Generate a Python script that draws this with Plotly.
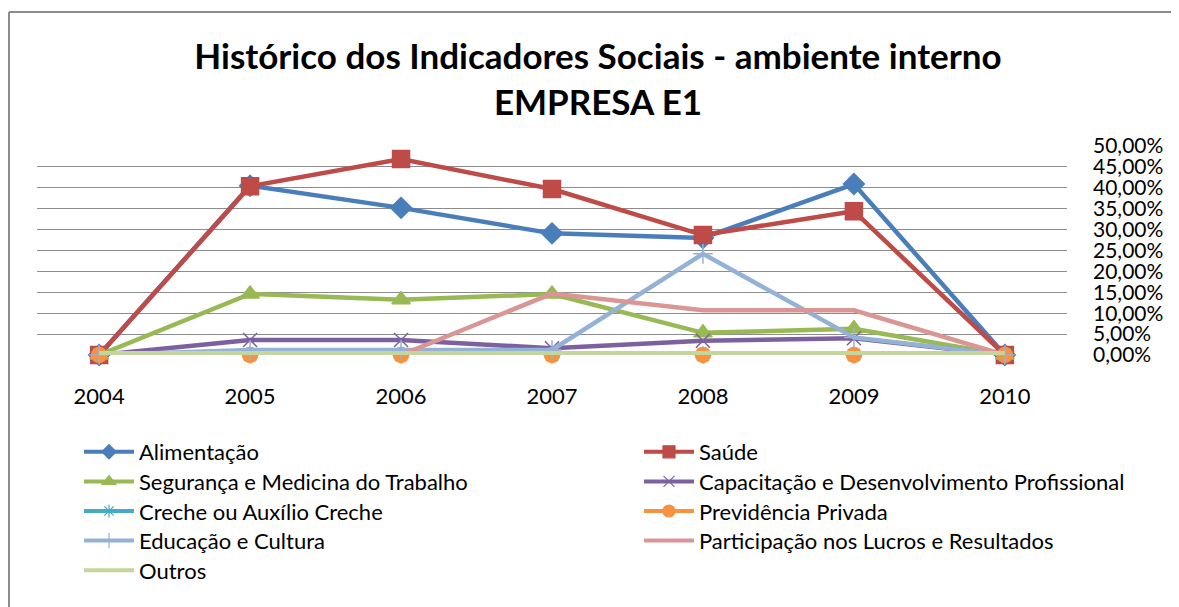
import plotly.graph_objects as go

years = ["2004", "2005", "2006", "2007", "2008", "2009", "2010"]

alimentacao = [0.0, 0.405, 0.352, 0.291, 0.280, 0.409, 0.0]
saude = [0.0, 0.404, 0.469, 0.397, 0.287, 0.344, 0.0]
seguranca = [0.0, 0.146, 0.132, 0.146, 0.053, 0.063, 0.0]
capacitacao = [0.0, 0.036, 0.036, 0.016, 0.034, 0.040, 0.0]
creche = [0.0, 0.0, 0.0, 0.0, 0.0, 0.0, 0.0]
previdencia = [0.0, 0.0, 0.0, 0.0, 0.0, 0.0, 0.0]
educacao = [0.0, 0.012, 0.012, 0.012, 0.242, 0.042, 0.0]
participacao = [0.0, 0.0, 0.0, 0.147, 0.107, 0.107, 0.0]
outros = [0.004, 0.004, 0.004, 0.004, 0.004, 0.004, 0.004]

series = [
    ("Alimentação", alimentacao, "#4A7EBB", "diamond", 16, 11),
    ("Saúde", saude, "#BE4B48", "square", 17, 12),
    ("Segurança e Medicina do Trabalho", seguranca, "#98B954", "triangle-up", 16, 12),
    ("Capacitação e Desenvolvimento Profissional", capacitacao, "#7D60A0", "x-thin-open", 14, 11),
    ("Creche ou Auxílio Creche", creche, "#46AAC5", "asterisk-open", 14, 11),
    ("Previdência Privada", previdencia, "#F69240", "circle", 15, 12),
    ("Educação e Cultura", educacao, "#94B2D6", "cross-thin-open", 14, 11),
    ("Participação nos Lucros e Resultados", participacao, "#D99694", None, 0, 0),
    ("Outros", outros, "#C3D69B", None, 0, 0),
]

FONT = "Lato"
# the page adds an 8px body margin; work in figure coordinates
OFF = 8
W, H = 1179 - OFF, 607 - OFF
PLOT_L, PLOT_R, PLOT_T, PLOT_B = 37 - OFF, 1067 - OFF, 146 - OFF, 355 - OFF
pw = PLOT_R - PLOT_L
ph = PLOT_B - PLOT_T

fig = go.Figure()
legend_layouts = {}
for i, (name, vals, color, sym, size, lsize) in enumerate(series):
    if sym:
        mode = "lines+markers"
        marker = dict(symbol=sym, size=size, color=color,
                      line=dict(color=color, width=1.5))
        lmarker = dict(symbol=sym, size=lsize, color=color,
                       line=dict(color=color, width=1.2))
    else:
        mode = "lines"
        marker = None
        lmarker = None
    fig.add_trace(go.Scatter(
        x=years, y=vals, name=name, mode=mode, showlegend=False,
        legendgroup=name,
        line=dict(color=color, width=4.5),
        marker=marker, cliponaxis=False,
    ))
    # legend entry (no data): two columns, one legend box per entry
    key = "legend" if i == 0 else f"legend{i + 1}"
    row, col = divmod(i, 2)
    text_x = 140 if col == 0 else 700
    row_center = 452.5 + 29.6 * row
    legend_layouts[key] = dict(
        orientation="v", xanchor="left", yanchor="top",
        x=(text_x - OFF - 61 - PLOT_L) / pw,
        y=(PLOT_B - (row_center - OFF - 21.5)) / ph,
        font=dict(family=FONT, size=22, color="black"),
        itemwidth=50, bgcolor="rgba(0,0,0,0)",
    )
    fig.add_trace(go.Scatter(
        x=[None], y=[None], name=name, mode=mode, legendgroup=name,
        legend=key,
        line=dict(color=color, width=4), marker=lmarker, showlegend=True,
    ))

fig.update_layout(
    width=W, height=H,
    paper_bgcolor="white", plot_bgcolor="white",
    margin=dict(l=PLOT_L, r=W - PLOT_R, t=PLOT_T, b=H - PLOT_B,
                autoexpand=False),
    separators=",.",
    font=dict(family=FONT, color="black"),
    title=dict(
        text="<b>Histórico dos Indicadores Sociais - ambiente interno<br>EMPRESA E1</b>",
        x=(598 - OFF) / W, xref="container", xanchor="center",
        y=1 - 61 / H, yref="container", yanchor="middle",
        font=dict(family=FONT, size=35, color="black"),
    ),
    xaxis=dict(
        type="category", showgrid=False, zeroline=False, showline=False,
        ticks="outside", ticklen=22, tickcolor="rgba(0,0,0,0)",
        tickfont=dict(family=FONT, size=22, color="black"),
    ),
    yaxis=dict(
        side="right", range=[0, 0.5], dtick=0.05, tickformat=".2%",
        showgrid=True, gridcolor="#8c8c8c", gridwidth=1.3,
        zeroline=False, showline=False,
        tickfont=dict(family=FONT, size=21, color="black"),
        ticks="", ticklabelstandoff=25,
    ),
    shapes=[
        dict(type="line", xref="paper", yref="paper",
             x0=(8 - OFF - PLOT_L) / pw + 0.001, x1=(1200 - PLOT_L) / pw,
             y0=(PLOT_B - (12 - OFF)) / ph, y1=(PLOT_B - (12 - OFF)) / ph,
             line=dict(color="#8c8c8c", width=2)),
        dict(type="line", xref="paper", yref="paper",
             x0=(8 - OFF - PLOT_L + 1) / pw, x1=(8 - OFF - PLOT_L + 1) / pw,
             y0=(PLOT_B - (12 - OFF)) / ph, y1=(PLOT_B - 620) / ph,
             line=dict(color="#8c8c8c", width=2)),
    ],
)
fig.update_layout(**legend_layouts)

fig.write_html("out.html")
